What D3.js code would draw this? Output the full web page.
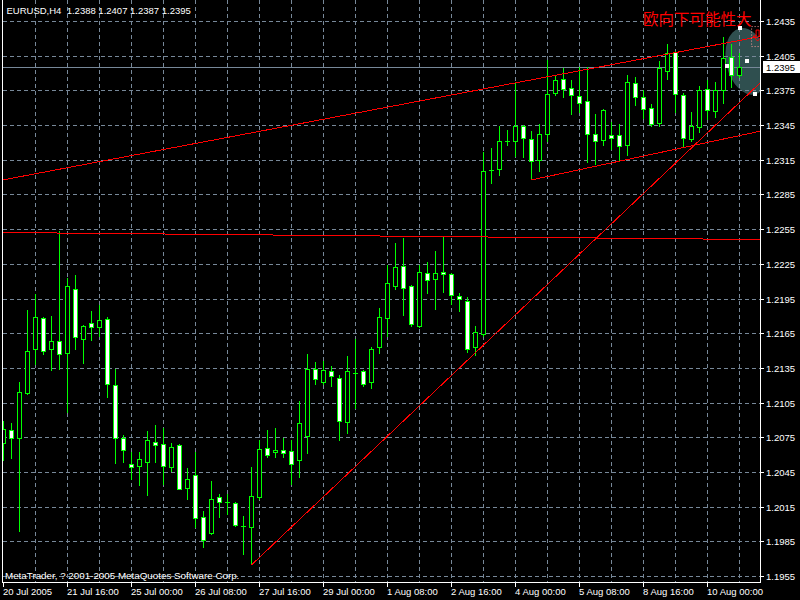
<!DOCTYPE html>
<html><head><meta charset="utf-8">
<script src="https://cdn.jsdelivr.net/npm/d3@7"></script>
<style>
html,body{margin:0;padding:0;background:#000;}
svg{display:block;}
</style></head><body>
<svg id="c" width="800" height="600"></svg>
<script>
// ---------- data ----------
const chartTitle = "EURUSD,H4";
const lastQuote = [1.2388, 1.2407, 1.2387, 1.2395];
const copyright = "MetaTrader, ? 2001-2005 MetaQuotes Software Corp.";
const noteText = "欧向下可能性大";
const priceTicks = [1.2435,1.2405,1.2375,1.2345,1.2315,1.2285,1.2255,1.2225,1.2195,1.2165,1.2135,1.2105,1.2075,1.2045,1.2015,1.1985,1.1955];
const timeLabels = ["20 Jul 2005","21 Jul 16:00","25 Jul 00:00","26 Jul 08:00","27 Jul 16:00","29 Jul 00:00","1 Aug 08:00","2 Aug 16:00","4 Aug 00:00","5 Aug 08:00","8 Aug 16:00","10 Aug 00:00"];
const timeLabelBars = [0,8,16,24,32,40,48,56,64,72,80,88];
const opens  = [1.2070,1.2081,1.2074,1.2113,1.2151,1.2178,1.2151,1.2158,1.2148,1.2203,1.2160,1.2174,1.2170,1.2177,1.2120,1.2074,1.2052,1.2050,1.2054,1.2071,1.2069,1.2049,1.2068,1.2031,1.2042,1.2006,1.1992,1.2023,1.2019,1.2018,1.1998,1.1997,1.2023,1.2066,1.2062,1.2064,1.2063,1.2055,1.2076,1.2134,1.2123,1.2132,1.2126,1.2088,1.2131,1.2132,1.2123,1.2153,1.2178,1.2206,1.2223,1.2206,1.2171,1.2217,1.2212,1.2218,1.2216,1.2197,1.2193,1.2153,1.2164,1.2306,1.2307,1.2331,1.2331,1.2344,1.2333,1.2315,1.2337,1.2373,1.2385,1.2377,1.2370,1.2366,1.2337,1.2332,1.2336,1.2336,1.2328,1.2381,1.2369,1.2360,1.2347,1.2392,1.2408,1.2371,1.2333,1.2343,1.2376,1.2357,1.2375,1.2404,1.2388];
const highs  = [1.2089,1.2087,1.2123,1.2185,1.2199,1.2179,1.2180,1.2253,1.2213,1.2215,1.2172,1.2184,1.2189,1.2179,1.2134,1.2077,1.2062,1.2062,1.2080,1.2086,1.2083,1.2070,1.2069,1.2048,1.2062,1.2011,1.2037,1.2026,1.2026,1.2019,1.2007,1.2049,1.2073,1.2081,1.2083,1.2074,1.2073,1.2106,1.2147,1.2140,1.2141,1.2137,1.2129,1.2145,1.2160,1.2133,1.2153,1.2187,1.2224,1.2243,1.2247,1.2207,1.2224,1.2227,1.2236,1.2249,1.2217,1.2200,1.2196,1.2171,1.2322,1.2325,1.2344,1.2341,1.2382,1.2345,1.2340,1.2346,1.2401,1.2388,1.2394,1.2384,1.2395,1.2395,1.2355,1.2359,1.2348,1.2346,1.2388,1.2387,1.2375,1.2363,1.2400,1.2415,1.2409,1.2373,1.2356,1.2379,1.2384,1.2382,1.2421,1.2415,1.2407];
const lows   = [1.2055,1.2057,1.1994,1.2112,1.2138,1.2147,1.2133,1.2134,1.2097,1.2151,1.2139,1.2159,1.2163,1.2110,1.2053,1.2054,1.2039,1.2034,1.2025,1.2054,1.2035,1.2046,1.2030,1.2022,1.1997,1.1980,1.1991,1.2006,1.2009,1.1998,1.1974,1.1965,1.2022,1.2058,1.2058,1.2058,1.2035,1.2041,1.2061,1.2121,1.2121,1.2119,1.2073,1.2079,1.2100,1.2119,1.2118,1.2148,1.2163,1.2203,1.2181,1.2171,1.2170,1.2200,1.2186,1.2201,1.2190,1.2184,1.2149,1.2146,1.2163,1.2295,1.2302,1.2328,1.2318,1.2317,1.2298,1.2305,1.2331,1.2371,1.2369,1.2355,1.2356,1.2313,1.2311,1.2328,1.2324,1.2315,1.2319,1.2362,1.2351,1.2344,1.2344,1.2385,1.2356,1.2326,1.2331,1.2339,1.2350,1.2352,1.2364,1.2378,1.2387];
const closes = [1.2082,1.2074,1.2114,1.2150,1.2179,1.2150,1.2158,1.2147,1.2206,1.2162,1.2171,1.2170,1.2176,1.2121,1.2074,1.2064,1.2049,1.2056,1.2073,1.2068,1.2050,1.2067,1.2030,1.2039,1.2005,1.1986,1.2022,1.2019,1.2019,1.1999,1.1998,1.2024,1.2065,1.2060,1.2064,1.2061,1.2052,1.2087,1.2134,1.2125,1.2133,1.2128,1.2089,1.2132,1.2131,1.2121,1.2151,1.2179,1.2208,1.2222,1.2204,1.2173,1.2218,1.2211,1.2217,1.2216,1.2198,1.2195,1.2151,1.2166,1.2305,1.2306,1.2331,1.2331,1.2344,1.2334,1.2314,1.2337,1.2372,1.2384,1.2376,1.2371,1.2364,1.2337,1.2331,1.2358,1.2334,1.2327,1.2382,1.2369,1.2359,1.2346,1.2394,1.2407,1.2372,1.2334,1.2344,1.2375,1.2358,1.2375,1.2403,1.2388,1.2395];
// drawn objects: [bar index, price]
const upperChannel = [[0,1.22981],[92,1.24186]];
const lowerChannel = [[66,1.2298],[85,1.2326]];
const supportLine  = [[31,1.1965],[92,1.2365]];
const levelLine    = [[0,1.22525],[92,1.22466]];
const ellipsePts   = [[92,1.2429],[93.94,1.2372]];
const ellipseScale = 0.62;
const arrowPt      = [94.2,1.2425];

// ---------- scales ----------
const svg = d3.select("#c");
const L = 2.5, R = 760.5, B = 582.5;
const x = d3.scaleLinear().domain([0, 92]).range([3.5, 739.5]);
const y = d3.scaleLinear().domain([1.1955, 1.2435]).range([576.5, 21.5]);
const px = v => Math.floor(v + 1e-6) + 0.5;
const GRID = "#778899", GREEN = "#00ff00", RED = "#ff0000";
const FONT = "'Liberation Sans', Arial, sans-serif";

svg.append("rect").attr("width",800).attr("height",600).attr("fill","#000");
svg.append("defs").append("clipPath").attr("id","plot")
  .append("rect").attr("x",L).attr("y",0).attr("width",R-L).attr("height",B);

const plotG = svg.append("g").attr("clip-path","url(#plot)");

function ellipseGeom(){
  const p1=[x(ellipsePts[0][0]), y(ellipsePts[0][1])];
  const p2=[x(ellipsePts[1][0]), y(ellipsePts[1][1])];
  const cx=(p1[0]+p2[0])/2, cy=(p1[1]+p2[1])/2;
  const dx=p2[0]-p1[0], dy=p2[1]-p1[1];
  const len=Math.hypot(dx,dy), a=len/2, b=a*ellipseScale;
  return {p1,p2,cx,cy,dx,dy,len,a,b,ang:Math.atan2(dy,dx)*180/Math.PI};
}
// ellipse (background object)
(function(){
  const g=ellipseGeom();
  plotG.append("ellipse").attr("cx",g.cx).attr("cy",g.cy).attr("rx",g.a).attr("ry",g.b)
    .attr("transform",`rotate(${g.ang},${g.cx},${g.cy})`).attr("fill","#2f4f4f");
})();

// grid
const gridG = plotG.append("g").attr("stroke",GRID).attr("stroke-dasharray","4,3").attr("shape-rendering","crispEdges");
priceTicks.forEach(p=>{
  gridG.append("line").attr("x1",L).attr("x2",R).attr("y1",px(y(p))).attr("y2",px(y(p)));
});
d3.range(4, 93, 4).forEach(i=>{
  gridG.append("line").attr("x1",px(x(i))).attr("x2",px(x(i))).attr("y1",0).attr("y2",B);
});

// bid line
plotG.append("line").attr("x1",L).attr("x2",R)
  .attr("y1",px(y(lastQuote[3]))).attr("y2",px(y(lastQuote[3])))
  .attr("stroke",GRID).attr("shape-rendering","crispEdges");

// candles
const bars = d3.range(opens.length).map(i=>({i,o:opens[i],h:highs[i],l:lows[i],c:closes[i]}));
const cg = plotG.append("g").attr("shape-rendering","crispEdges");
bars.forEach(d=>{
  const cx = px(x(d.i));
  cg.append("line").attr("x1",cx).attr("x2",cx)
    .attr("y1",Math.floor(y(d.h)+1e-6)).attr("y2",Math.floor(y(d.l)+1e-6)+1)
    .attr("stroke",GREEN);
  const t = px(y(Math.max(d.o,d.c))), b = px(y(Math.min(d.o,d.c)));
  if (b - t < 0.5) {
    cg.append("line").attr("x1",cx-2.5).attr("x2",cx+2.5).attr("y1",t).attr("y2",t).attr("stroke",GREEN);
  } else {
    cg.append("rect").attr("x",cx-2).attr("y",t).attr("width",4).attr("height",b-t)
      .attr("fill", d.c>d.o ? "#000" : "#fff").attr("stroke",GREEN);
  }
});

// trend lines
function lineAt(pts, i){ const [a,b]=pts; return a[1]+(b[1]-a[1])*(i-a[0])/(b[0]-a[0]); }
function drawTrend(pts, startLeft){
  const i0 = startLeft ? x.invert(L) : pts[0][0];
  const i1 = x.invert(R);
  plotG.append("line")
    .attr("x1",x(i0)).attr("y1",y(lineAt(pts,i0)))
    .attr("x2",x(i1)).attr("y2",y(lineAt(pts,i1)))
    .attr("stroke",RED).attr("stroke-width",1).attr("shape-rendering","crispEdges");
}
drawTrend(levelLine,true);
drawTrend(upperChannel,true);
drawTrend(lowerChannel,false);
drawTrend(supportLine,false);

// ellipse handles
(function(){
  const g=ellipseGeom();
  const p3=[g.cx - g.dy/g.len*g.b, g.cy + g.dx/g.len*g.b];
  [g.p1,g.p2,[g.cx,g.cy],p3].forEach(p=>{
    plotG.append("rect").attr("x",Math.round(p[0])-2).attr("y",Math.round(p[1])-2)
      .attr("width",4).attr("height",4).attr("fill","#fff");
  });
})();

// arrow object with selection box
(function(){
  const ax=x(arrowPt[0]), ay=y(arrowPt[1]);
  plotG.append("rect").attr("x",ax-5.5).attr("y",ay-6.5).attr("width",13).attr("height",20)
    .attr("fill","none").attr("stroke","#ff9999").attr("stroke-dasharray","1,2");
  plotG.append("path")
    .attr("d",`M${ax-1},${ay-3}h3v6h3l-4.5,5l-4.5,-5h3z`)
    .attr("fill","none").attr("stroke",RED);
})();

// note text
svg.append("text").attr("x",643).attr("y",24.5)
  .attr("font-family","'Noto Sans CJK SC', sans-serif").attr("font-size",15.5)
  .attr("fill",RED).text(noteText);

// frame
const fr = svg.append("g").attr("stroke","#fff").attr("shape-rendering","crispEdges");
fr.append("line").attr("x1",L).attr("x2",L).attr("y1",0).attr("y2",B);
fr.append("line").attr("x1",R).attr("x2",R).attr("y1",0).attr("y2",B);
fr.append("line").attr("x1",L).attr("x2",R).attr("y1",B).attr("y2",B);

// price axis
priceTicks.forEach(p=>{
  const yy=px(y(p));
  fr.append("line").attr("x1",R).attr("x2",R+3).attr("y1",yy).attr("y2",yy);
  svg.append("text").attr("x",766).attr("y",yy+3.5).attr("fill","#fff")
    .attr("font-family",FONT).attr("font-size",9.5).text(p.toFixed(4));
});
// bid label
(function(){
  const yy=px(y(lastQuote[3]));
  svg.append("rect").attr("x",763).attr("y",yy-6.5).attr("width",37).attr("height",12).attr("fill","#fff");
  svg.append("text").attr("x",766).attr("y",yy+3.5).attr("fill","#000")
    .attr("font-family",FONT).attr("font-size",9.5).text(lastQuote[3].toFixed(4));
})();

// time axis
timeLabelBars.forEach((bi,k)=>{
  const xx=px(x(bi));
  fr.append("line").attr("x1",xx).attr("x2",xx).attr("y1",B).attr("y2",B+4);
  svg.append("text").attr("x",xx-0.5).attr("y",595).attr("fill","#fff")
    .attr("font-family",FONT).attr("font-size",9.5).text(timeLabels[k]);
});

// title & copyright
svg.append("text").attr("x",6.5).attr("y",14).attr("fill","#fff")
  .attr("font-family",FONT).attr("font-size",9.5).style("white-space","pre")
  .text(chartTitle + "  " + lastQuote.map(v=>v.toFixed(4)).join(" "));
svg.append("text").attr("x",5).attr("y",578.5).attr("fill","#fff")
  .attr("font-family",FONT).attr("font-size",9.8).text(copyright);
</script>
</body></html>
